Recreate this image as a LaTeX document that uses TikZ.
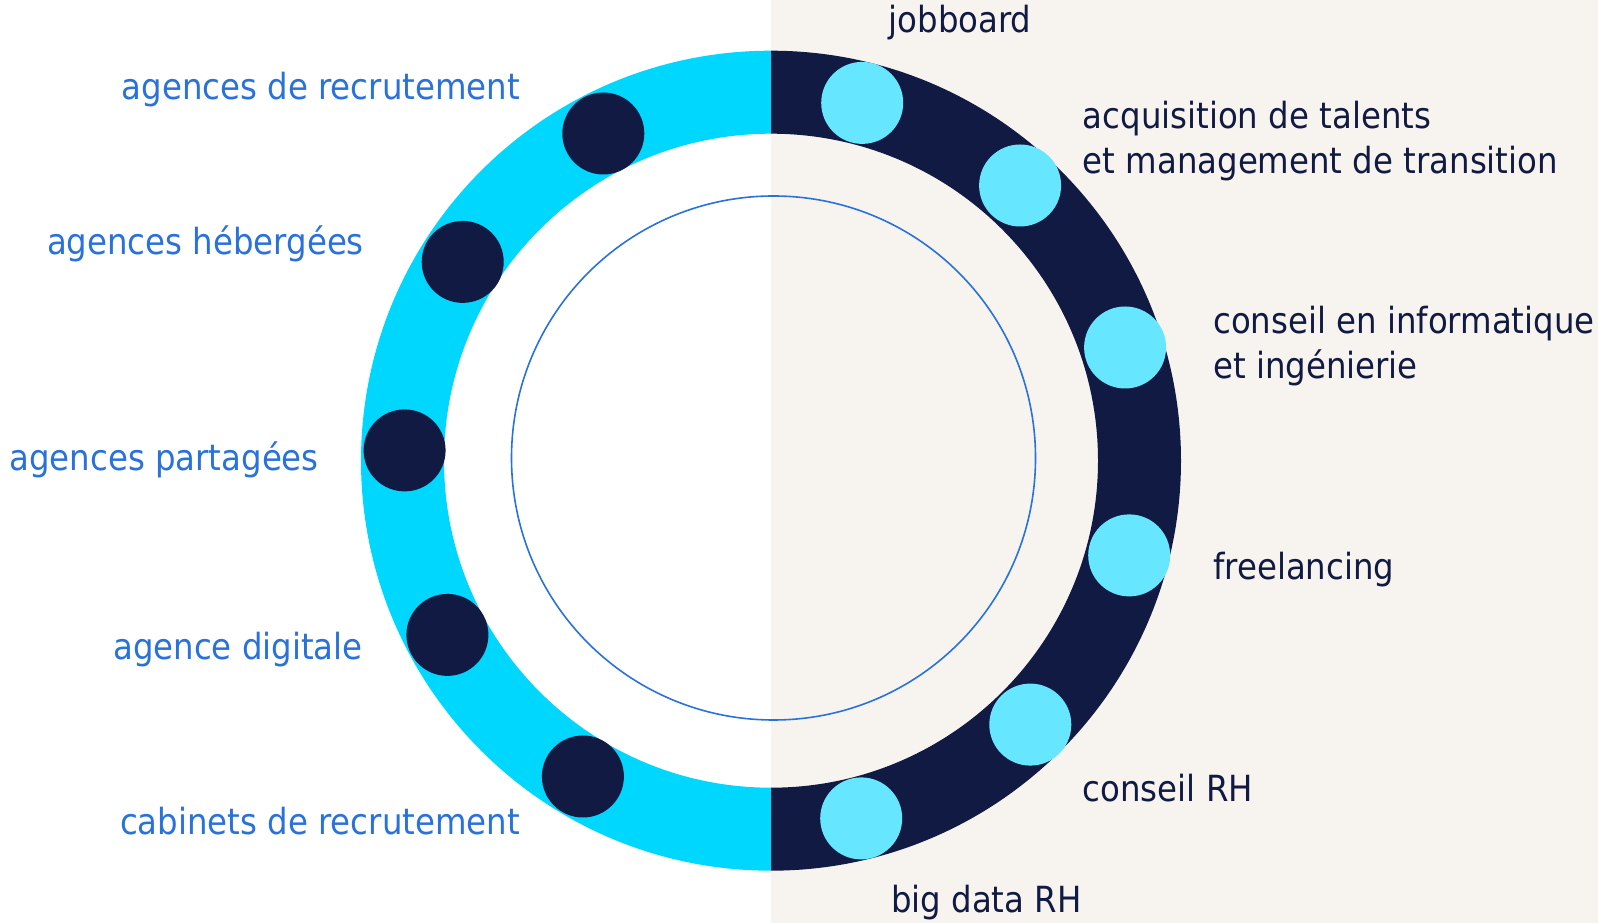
\documentclass[tikz,border=0pt]{standalone}
\usepackage{fontspec}
\setmainfont{DejaVu Sans Condensed}
\definecolor{navy}{HTML}{111A42}
\definecolor{ringcyan}{HTML}{00D7FF}
\definecolor{dotcyan}{HTML}{66E6FF}
\definecolor{beige}{HTML}{F7F4EF}
\definecolor{labelblue}{HTML}{2A72DB}
\tikzset{
  darkdot/.style={circle, fill=navy, minimum size=82pt, inner sep=0pt},
  lightdot/.style={circle, fill=dotcyan, minimum size=82pt, inner sep=0pt},
  leftlabel/.style={anchor=base east, inner sep=0pt, text=labelblue, font=\fontsize{36}{45}\selectfont},
  rightlabel/.style={anchor=base west, inner sep=0pt, text=navy, align=left, font=\fontsize{36}{45}\selectfont},
}
\begin{document}
\begin{tikzpicture}[x=1pt,y=1pt]
\useasboundingbox (0,0) rectangle (1598,923);
\fill[white] (0,0) rectangle (771,923);
\fill[beige] (771,0) rectangle (1598,923);
\coordinate (c) at (771,462.3);
% ring halves
\fill[ringcyan] (771,872.3) arc[start angle=90, end angle=270, radius=410] -- (771,135.3) arc[start angle=270, end angle=90, radius=327] -- cycle;
\fill[navy] (771,872.3) arc[start angle=90, end angle=-90, radius=410] -- (771,135.3) arc[start angle=-90, end angle=90, radius=327] -- cycle;
% thin inner circle
\draw[labelblue, line width=1.6pt] (773.5,465) circle[radius=262];
% dots
\node[darkdot] (d1) at (603.3,789.5) {};
\node[darkdot] (d2) at (462.7,661.1) {};
\node[darkdot] (d3) at (404.6,472.6) {};
\node[darkdot] (d4) at (447.4,288.1) {};
\node[darkdot] (d5) at (582.9,146.5) {};
\node[lightdot] (l1) at (862.2,820.1) {};
\node[lightdot] (l2) at (1020.1,737.5) {};
\node[lightdot] (l3) at (1125.1,575.5) {};
\node[lightdot] (l4) at (1129.2,367.6) {};
\node[lightdot] (l5) at (1030.3,198.4) {};
\node[lightdot] (l6) at (861.2,104.6) {};
% left labels
\node[leftlabel] (t1) at (520,823) {agences de recrutement};
\node[leftlabel] (t2) at (364,668) {agences hébergées};
\node[leftlabel] (t3) at (319,452.3) {agences partagées};
\node[leftlabel] (t4) at (363,263) {agence digitale};
\node[leftlabel] (t5) at (520,88) {cabinets de recrutement};
% right labels
\node[rightlabel] (r1) at (888.5,890.7) {jobboard};
\node[rightlabel] (r2) at (1082.6,749.7) {acquisition de talents\\et management de transition};
\node[rightlabel] (r3) at (1213,544.7) {conseil en informatique\\et ingénierie};
\node[rightlabel] (r4) at (1213,343) {freelancing};
\node[rightlabel] (r5) at (1082.6,121.3) {conseil RH};
\node[rightlabel] (r6) at (891,10) {big data RH};
\end{tikzpicture}
\end{document}
